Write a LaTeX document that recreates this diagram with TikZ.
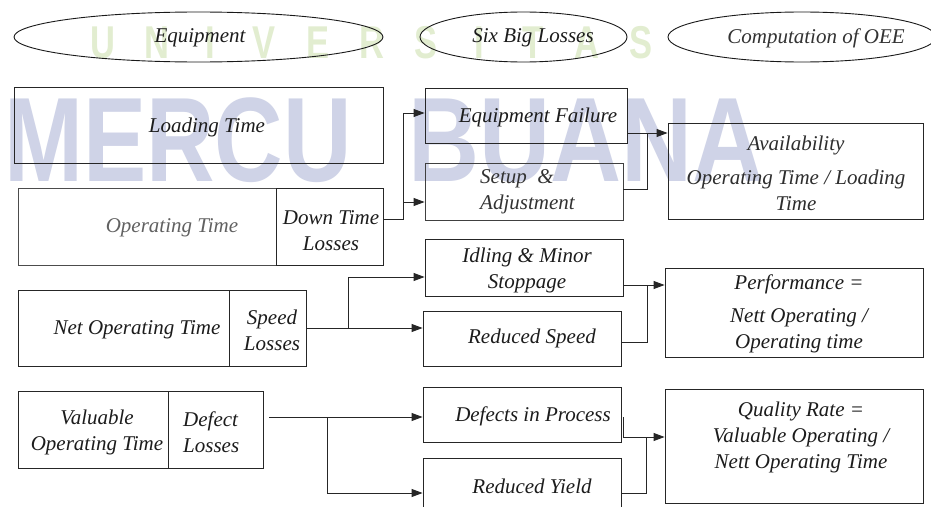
\documentclass[tikz,border=0pt]{standalone}
\usepackage{fontspec}
\setmainfont{Liberation Serif}
\newfontfamily\wmfont{Liberation Sans}
\usetikzlibrary{arrows.meta,shapes.geometric}
\definecolor{wmblue}{RGB}{207,211,231}
\definecolor{wmgreen}{RGB}{226,237,208}
\definecolor{ink}{RGB}{28,28,28}
\begin{document}
\begin{tikzpicture}[x=1pt,y=-1pt,
  box/.style={draw=black!85, line width=0.9pt, rectangle, inner sep=0pt},
  oval/.style={draw=black!90, line width=0.9pt, ellipse, inner sep=0pt},
  lbl/.style={inner sep=0pt, font=\fontsize{21}{26}\selectfont\itshape, text=ink},
  wire/.style={draw=black!85, line width=0.9pt},
  arr/.style={wire, -{Triangle[length=11pt,width=8pt]}},
  wmbig/.style={inner sep=0pt, anchor=base west, text=wmblue, font=\wmfont\bfseries\fontsize{120}{120}\selectfont},
  wmsmall/.style={inner sep=0pt, anchor=base, text=wmgreen, font=\wmfont\bfseries\fontsize{46}{46}\selectfont}
]
\useasboundingbox (0,0) rectangle (931,506);
\fill[white] (0,0) rectangle (931,506);

% watermark
\node[wmbig] (wm1) at (4,181) {\scalebox{0.79}[1]{MERCU}};
\node[wmbig] (wm2) at (408,181) {\scalebox{0.82}[1]{BUANA}};
\foreach \ch [count=\i] in {U,N,I,V,E,R,S,I,T,A,S}
  \node[wmsmall] (wmu\i) at ({103+53.8*(\i-1)},58) {\scalebox{0.75}[1]{\ch}};

% header ellipses
\node[oval, minimum width=369, minimum height=50] (eq) at (198.5,37) {};
\node[oval, minimum width=207, minimum height=50] (sbl) at (523.5,37) {};
\node[oval, minimum width=268, minimum height=50] (oee) at (802,37) {};
\node[lbl] (t-eq) at (200,38) {Equipment};
\node[lbl] (t-sbl) at (533,38) {Six Big Losses};
\node[lbl, text=black!80] (t-oee) at (816,38) {Computation of OEE};

% equipment column
\node[box, minimum width=369, minimum height=76] (lt) at (198.5,125) {};
\node[box, draw=black!70, minimum width=258, minimum height=77] (ot) at (147,226.5) {};
\node[box, minimum width=107, minimum height=77] (dtl) at (329.5,226.5) {};
\node[box, minimum width=211, minimum height=76] (not) at (123.5,328) {};
\node[box, minimum width=77, minimum height=76] (sl) at (267.5,328) {};
\node[box, minimum width=150, minimum height=77] (vot) at (93,429.5) {};
\node[box, minimum width=95, minimum height=77] (dl) at (215.5,429.5) {};

\node[lbl] (t-lt) at (207,127) {Loading Time};
\node[lbl, text=black!62] (t-ot) at (172,228) {Operating Time};
\node[lbl, align=center] (t-dtl) at (331,230.5) {Down Time\\Losses};
\node[lbl] (t-not) at (137,330) {Net Operating Time};
\node[lbl, align=center] (t-sl) at (272,330) {Speed\\Losses};
\node[lbl, align=center] (t-vot) at (97,432) {Valuable\\Operating Time};
\node[lbl, align=left, anchor=west] (t-dl) at (183,432) {Defect\\Losses};

% six big losses column
\node[box, minimum width=202, minimum height=55] (ef) at (526,115.5) {};
\node[box, draw=black!75, minimum width=198, minimum height=57] (su) at (524,191.5) {};
\node[box, minimum width=198, minimum height=57] (id) at (524,267.5) {};
\node[box, minimum width=198, minimum height=55] (rs) at (522,338.5) {};
\node[box, minimum width=198, minimum height=55] (dip) at (522,414.5) {};
\node[box, minimum width=198, minimum height=54] (ry) at (522,485) {};

\node[lbl] (t-ef) at (538,117) {Equipment Failure};
\node[lbl, align=left, anchor=west, text=black!80] (t-su) at (480,191.5) {Setup\ \ \&\\Adjustment};
\node[lbl, align=center] (t-id) at (527,270) {Idling \& Minor\\Stoppage};
\node[lbl] (t-rs) at (532,338) {Reduced Speed};
\node[lbl] (t-dip) at (533,416) {Defects in Process};
\node[lbl] (t-ry) at (532,486) {Reduced Yield};

% OEE column
\node[box, minimum width=255, minimum height=96] (av) at (795.5,171) {};
\node[box, minimum width=258, minimum height=89] (pf) at (794,312.5) {};
\node[box, minimum width=258, minimum height=114] (qr) at (794,446) {};

\node[lbl, align=center, text=black!82] (t-av) at (796,173) {Availability\\[8pt]Operating Time / Loading\\Time};
\node[lbl, align=center] (t-pf) at (799,314) {Performance =\\[7pt]Nett Operating /\\Operating time};
\node[lbl, align=center] (t-qr) at (801,437.5) {Quality Rate =\\Valuable Operating /\\Nett Operating Time};

% connectors: down time losses
\coordinate (j1) at (403,219);
\coordinate (j1a) at (403,113);
\coordinate (j1b) at (403,202);
\draw[arr] (dtl.east |- j1) -| (j1a) -- (ef.west |- j1a);
\draw[arr] (j1b) -- (su.west |- j1b);

% availability
\coordinate (j2) at (647,133);
\coordinate (j2b) at (647,189);
\draw[arr] (ef.east |- j2) -- (av.west |- j2);
\draw[wire] (su.east |- j2b) -- (j2b) -- (j2);

% speed losses
\coordinate (j3) at (348,328);
\coordinate (j3b) at (348,277);
\draw[arr] (sl.east |- j3) -- (rs.west |- j3);
\draw[arr] (j3) -- (j3b) -- (id.west |- j3b);

% performance
\coordinate (j4) at (647,285);
\coordinate (j4b) at (647,342);
\draw[arr] (id.east |- j4) -- (pf.west |- j4);
\draw[wire] (rs.east |- j4b) -- (j4b) -- (j4);

% defect losses
\coordinate (j5s) at (269,417);
\coordinate (j5) at (327,417);
\coordinate (j5b) at (327,493);
\draw[arr] (j5s) -- (dip.west |- j5s);
\draw[arr] (j5) -- (j5b) -- (ry.west |- j5b);

% quality
\coordinate (j6s) at (623,417);
\coordinate (j6) at (646,437);
\coordinate (j6b) at (646,493);
\draw[arr] (j6s) |- (qr.west |- j6);
\draw[wire] (ry.east |- j6b) -- (j6b) -- (j6);
\end{tikzpicture}
\end{document}
